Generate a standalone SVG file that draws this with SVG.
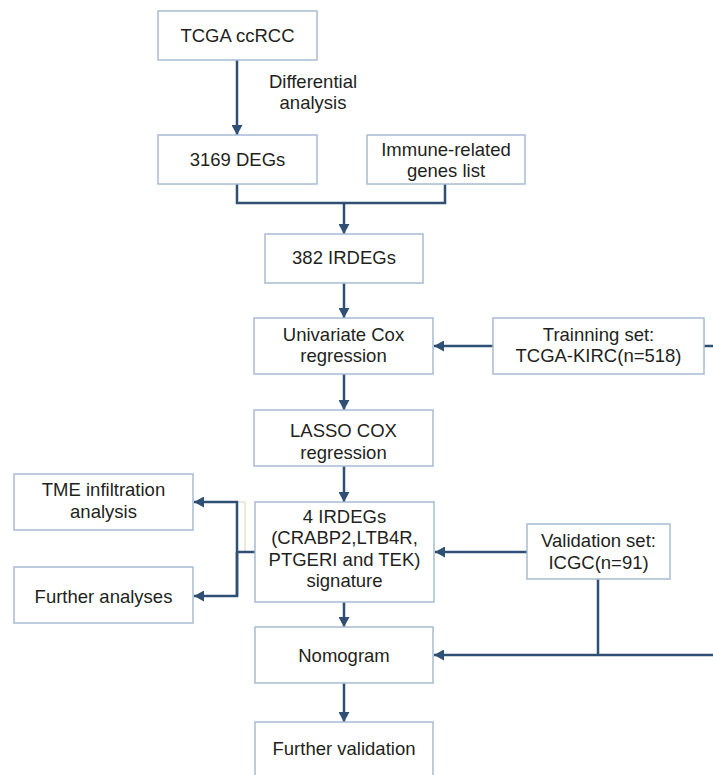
<svg xmlns="http://www.w3.org/2000/svg" width="713" height="775" viewBox="0 0 713 775">
<style>
.box{fill:#fff;stroke:#a7bcd4;stroke-width:1.5}
.t{font-family:"Liberation Sans",Arial,sans-serif;font-size:18.5px;fill:#231f20;text-anchor:middle}
.c{fill:none;stroke:#2f4f74;stroke-width:2.5}
.thin{fill:none;stroke:#d6d6b4;stroke-width:1}
</style>
<defs>
<marker id="ah" markerUnits="userSpaceOnUse" markerWidth="11" markerHeight="11" refX="10" refY="5.5" orient="auto">
<path d="M0,0 L10,5.5 L0,11 z" fill="#2f4f74"/>
</marker>
</defs>
<rect width="713" height="775" fill="#fff"/>
<g id="connectors">
<line class="c" x1="237" y1="60" x2="237" y2="135" marker-end="url(#ah)"/>
<polyline class="c" points="237,184 237,203 445,203 445,184"/>
<line class="c" x1="344" y1="203" x2="344" y2="234" marker-end="url(#ah)"/>
<line class="c" x1="344" y1="283" x2="344" y2="318" marker-end="url(#ah)"/>
<line class="c" x1="493" y1="346" x2="434" y2="346" marker-end="url(#ah)"/>
<line class="c" x1="704" y1="346" x2="713" y2="346"/>
<line class="c" x1="344" y1="374" x2="344" y2="410" marker-end="url(#ah)"/>
<line class="c" x1="344" y1="466" x2="344" y2="502" marker-end="url(#ah)"/>
<polyline class="thin" points="237,502 245,502 245,551"/>
<line class="c" x1="255" y1="552" x2="237" y2="552"/>
<polyline class="c" points="237,596 237,502 194,502" marker-end="url(#ah)"/>
<polyline class="c" points="237,552 237,596 194,596" marker-end="url(#ah)"/>
<line class="c" x1="527" y1="552" x2="435" y2="552" marker-end="url(#ah)"/>
<line class="c" x1="598" y1="579" x2="598" y2="655"/>
<line class="c" x1="713" y1="655" x2="434" y2="655" marker-end="url(#ah)"/>
<line class="c" x1="344" y1="602" x2="344" y2="627" marker-end="url(#ah)"/>
<line class="c" x1="344" y1="683" x2="344" y2="722" marker-end="url(#ah)"/>
</g>
<g id="label-differential">
<text class="t" x="313" y="88">Differential</text>
<text class="t" x="313" y="109">analysis</text>
</g>
<g id="tcga-ccrcc">
<rect class="box" x="158" y="11" width="159" height="49"/>
<text class="t" x="237.5" y="42">TCGA ccRCC</text>
</g>
<g id="degs">
<rect class="box" x="158" y="135" width="159" height="49"/>
<text class="t" x="237.5" y="166">3169 DEGs</text>
</g>
<g id="immune">
<rect class="box" x="367" y="135" width="158" height="49"/>
<text class="t" x="446" y="156">Immune-related</text>
<text class="t" x="446" y="177">genes list</text>
</g>
<g id="irdegs">
<rect class="box" x="265" y="234" width="158" height="49"/>
<text class="t" x="344" y="264">382 IRDEGs</text>
</g>
<g id="univariate">
<rect class="box" x="254" y="318" width="179" height="56"/>
<text class="t" x="343.5" y="341">Univariate Cox</text>
<text class="t" x="343.5" y="362">regression</text>
</g>
<g id="training">
<rect class="box" x="493" y="318" width="211" height="56"/>
<text class="t" x="598.5" y="341">Trainning set:</text>
<text class="t" x="598.5" y="362">TCGA-KIRC(n=518)</text>
</g>
<g id="lasso">
<rect class="box" x="254" y="410" width="179" height="56"/>
<text class="t" x="343.5" y="437">LASSO COX</text>
<text class="t" x="343.5" y="459">regression</text>
</g>
<g id="tme">
<rect class="box" x="14" y="474" width="179" height="56"/>
<text class="t" x="103.5" y="496">TME infiltration</text>
<text class="t" x="103.5" y="518">analysis</text>
</g>
<g id="further-analyses">
<rect class="box" x="14" y="567" width="179" height="56"/>
<text class="t" x="103.5" y="603">Further analyses</text>
</g>
<g id="signature">
<rect class="box" x="255" y="502" width="179" height="100"/>
<text class="t" x="344.5" y="523">4 IRDEGs</text>
<text class="t" x="344.5" y="544">(CRABP2,LTB4R,</text>
<text class="t" x="344.5" y="566">PTGERI and TEK)</text>
<text class="t" x="344.5" y="587">signature</text>
</g>
<g id="validation">
<rect class="box" x="527" y="524" width="143" height="55"/>
<text class="t" x="598.5" y="547">Validation set:</text>
<text class="t" x="598.5" y="569">ICGC(n=91)</text>
</g>
<g id="nomogram">
<rect class="box" x="255" y="627" width="178" height="56"/>
<text class="t" x="344" y="662">Nomogram</text>
</g>
<g id="further-validation">
<rect class="box" x="255" y="722" width="178" height="60"/>
<text class="t" x="344" y="755">Further validation</text>
</g>
</svg>
